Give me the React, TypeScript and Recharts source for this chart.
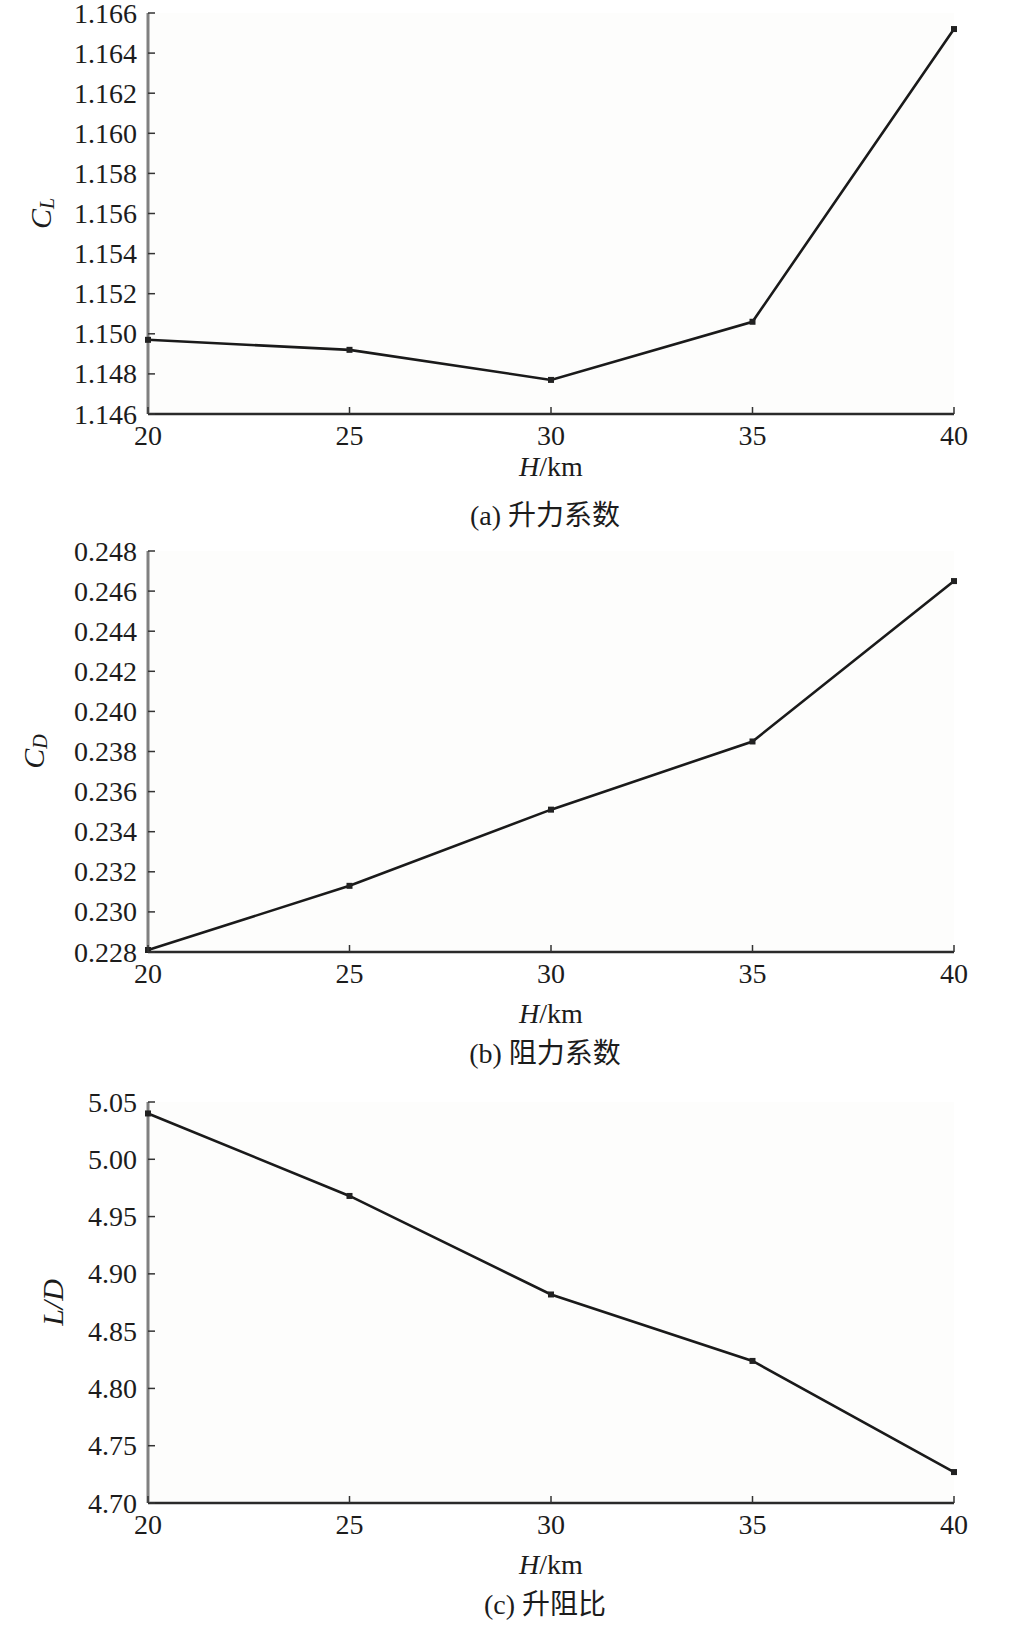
import React from "react";
import { LineChart, Line, XAxis, YAxis, CartesianGrid, Label } from "recharts";

// altitude H (km)
const heights = [20, 25, 30, 35, 40];
// (a) lift coefficient C_L
const liftCoef = [1.1497, 1.1492, 1.1477, 1.1506, 1.1652];
// (b) drag coefficient C_D
const dragCoef = [0.2281, 0.2313, 0.2351, 0.2385, 0.2465];
// (c) lift to drag ratio L/D
const liftDragRatio = [5.04, 4.968, 4.882, 4.824, 4.727];

const heightTicks = [20, 25, 30, 35, 40];
const liftTicks = [1.146, 1.148, 1.15, 1.152, 1.154, 1.156, 1.158, 1.16, 1.162, 1.164, 1.166];
const dragTicks = [0.228, 0.23, 0.232, 0.234, 0.236, 0.238, 0.24, 0.242, 0.244, 0.246, 0.248];
const ratioTicks = [4.7, 4.75, 4.8, 4.85, 4.9, 4.95, 5.0, 5.05];

const SERIF = "'Liberation Serif', 'Times New Roman', 'Noto Sans CJK SC', serif";
const INK = "#1c1c1c";
const TICK_LEN = 7;
const TICK_FONT = 28;

const BottomTick = (props: any) => {
  const { x, y, payload } = props;
  return (
    <g>
      <line x1={x} y1={y} x2={x} y2={y - TICK_LEN} stroke="#333" strokeWidth={1.5} />
      <text
        x={x}
        y={y + 21}
        textAnchor="middle"
        dominantBaseline="central"
        fontFamily={SERIF}
        fontSize={TICK_FONT}
        fill={INK}
      >
        {payload.value}
      </text>
    </g>
  );
};

const TopTick = (props: any) => {
  const { x, y } = props;
  return <line x1={x} y1={y} x2={x} y2={y + TICK_LEN} stroke="#333" strokeWidth={1.5} />;
};

const RightTick = (props: any) => {
  const { x, y } = props;
  return <line x1={x} y1={y} x2={x - TICK_LEN} y2={y} stroke="#333" strokeWidth={1.5} />;
};

const makeLeftTick = (digits: number) => (props: any) => {
  const { x, y, payload } = props;
  return (
    <g>
      <line x1={x} y1={y} x2={x + TICK_LEN} y2={y} stroke="#333" strokeWidth={1.5} />
      <text
        x={x - 11}
        y={y}
        textAnchor="end"
        dominantBaseline="central"
        fontFamily={SERIF}
        fontSize={TICK_FONT}
        fill={INK}
      >
        {Number(payload.value).toFixed(digits)}
      </text>
    </g>
  );
};

const squareDot = (p: any) => (
  <rect key={`dot-${p.index}`} x={p.cx - 3} y={p.cy - 3} width={6} height={6} fill="#222" />
);

const yLabel = (main: string, sub: string | null, cx: number) => (props: any) => {
  const vb = props.viewBox;
  const cy = vb.y + vb.height / 2;
  return (
    <text
      transform={`translate(${cx},${cy}) rotate(-90)`}
      textAnchor="middle"
      dominantBaseline="central"
      fontFamily={SERIF}
      fontSize={30}
      fontStyle="italic"
      fill={INK}
    >
      {main}
      {sub && (
        <tspan fontSize={20} dy={7}>
          {sub}
        </tspan>
      )}
    </text>
  );
};

const xLabel = (gap: number) => (props: any) => {
  const vb = props.viewBox;
  const cx = vb.x + vb.width / 2;
  return (
    <text
      x={cx}
      y={vb.y + gap}
      textAnchor="middle"
      dominantBaseline="central"
      fontFamily={SERIF}
      fontSize={28}
      fill={INK}
    >
      <tspan fontStyle="italic">H</tspan>/km
    </text>
  );
};

type PanelProps = {
  top: number;
  values: number[];
  ticks: number[];
  digits: number;
  label: [string, string | null, number];
  xGap: number;
  caption: string;
  captionY: number;
};

function Panel({ top, values, ticks, digits, label, xGap, caption, captionY }: PanelProps) {
  const data = heights.map((h, i) => ({ h, v: values[i] }));
  const domain: [number, number] = [ticks[0], ticks[ticks.length - 1]];
  return (
    <>
      <div style={{ position: "absolute", left: 0, top }}>
        <LineChart width={1033} height={540} data={data} margin={{ top: 13, right: 79, bottom: 0, left: 68 }}>
          <CartesianGrid horizontal={false} vertical={false} fill="#fdfdfc" />
          <XAxis
            xAxisId="b"
            dataKey="h"
            type="number"
            domain={[20, 40]}
            ticks={heightTicks}
            height={126}
            tickSize={0}
            tickMargin={0}
            tickLine={false}
            tick={BottomTick}
            axisLine={{ stroke: "#2a2a2a", strokeWidth: 2.5 }}
          >
            <Label content={xLabel(xGap)} />
          </XAxis>
          <XAxis
            xAxisId="t"
            orientation="top"
            dataKey="h"
            type="number"
            domain={[20, 40]}
            ticks={heightTicks}
            height={0}
            tickSize={0}
            tickMargin={0}
            tickLine={false}
            tick={TopTick}
            axisLine={{ stroke: "#1a1a1a", strokeWidth: 2 }}
          />
          <YAxis
            yAxisId="l"
            type="number"
            domain={domain}
            ticks={ticks}
            width={80}
            tickSize={0}
            tickMargin={0}
            tickLine={false}
            tick={makeLeftTick(digits)}
            axisLine={{ stroke: "#808080", strokeWidth: 3 }}
          >
            <Label content={yLabel(label[0], label[1], label[2])} />
          </YAxis>
          <YAxis
            yAxisId="r"
            orientation="right"
            type="number"
            domain={domain}
            ticks={ticks}
            width={0}
            tickSize={0}
            tickMargin={0}
            tickLine={false}
            tick={RightTick}
            axisLine={{ stroke: "#8a8a8a", strokeWidth: 4 }}
          />
          <Line
            xAxisId="t"
            yAxisId="r"
            dataKey="v"
            stroke="none"
            dot={false}
            isAnimationActive={false}
          />
          <Line
            xAxisId="b"
            yAxisId="l"
            dataKey="v"
            type="linear"
            stroke="#1a1a1a"
            strokeWidth={2.6}
            dot={squareDot}
            isAnimationActive={false}
          />
        </LineChart>
      </div>
      <div
        style={{
          position: "absolute",
          left: 345,
          width: 400,
          top: captionY - 16,
          textAlign: "center",
          fontFamily: SERIF,
          fontSize: 28,
          lineHeight: "32px",
          color: INK,
          whiteSpace: "nowrap",
        }}
      >
        {caption}
      </div>
    </>
  );
}

export default function App() {
  return (
    <div style={{ position: "absolute", left: 0, top: 0, width: 1033, height: 1631, background: "#fff" }}>
      <style>{`.recharts-surface { overflow: visible; }`}</style>
      <Panel
        top={0}
        values={liftCoef}
        ticks={liftTicks}
        digits={3}
        label={["C", "L", 40]}
        xGap={52}
        caption="(a) 升力系数"
        captionY={516}
      />
      <Panel
        top={538}
        values={dragCoef}
        ticks={dragTicks}
        digits={3}
        label={["C", "D", 33]}
        xGap={61}
        caption="(b) 阻力系数"
        captionY={1054}
      />
      <Panel
        top={1089}
        values={liftDragRatio}
        ticks={ratioTicks}
        digits={2}
        label={["L/D", null, 52]}
        xGap={61}
        caption="(c) 升阻比"
        captionY={1605}
      />
    </div>
  );
}
